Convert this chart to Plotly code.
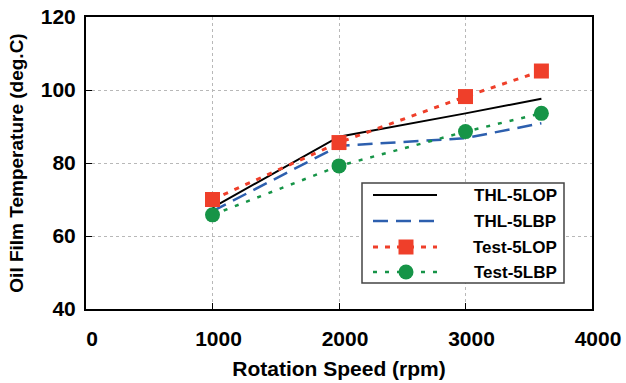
import plotly.graph_objects as go

speed = [1000, 2000, 3000, 3600]
thl_5lop = [67.8, 87.2, 93.6, 97.6]
thl_5lbp = [66.8, 84.7, 86.8, 90.9]
test_5lop = [70.0, 85.6, 98.2, 105.2]
test_5lbp = [65.8, 79.2, 88.6, 93.6]

x_ticks = [0, 1000, 2000, 3000, 4000]
y_ticks = [40, 60, 80, 100, 120]

names = ["THL-5LOP", "THL-5LBP", "Test-5LOP", "Test-5LBP"]

FONT = "Liberation Sans, Arial, sans-serif"
BLACK = "black"
BLUE = "#2d5fae"
RED = "#ef3f2a"
GREEN = "#169447"

styles = [
    dict(line=dict(color=BLACK, width=2), mode="lines", marker=None),
    dict(line=dict(color=BLUE, width=2.5, dash="15px,8px"), mode="lines", marker=None),
    dict(line=dict(color=RED, width=3, dash="5px,7px"), mode="lines+markers",
         marker=dict(symbol="square", size=15, color=RED)),
    dict(line=dict(color=GREEN, width=2.5, dash="4px,8px"), mode="lines+markers",
         marker=dict(symbol="circle", size=15, color=GREEN)),
]
series = [thl_5lop, thl_5lbp, test_5lop, test_5lbp]

fig = go.Figure()
for name, ys, st in zip(names, series, styles):
    kw = dict(x=speed, y=ys, name=name, mode=st["mode"], line=st["line"], showlegend=False)
    if st["marker"] is not None:
        kw["marker"] = st["marker"]
    fig.add_trace(go.Scatter(**kw))

axis_common = dict(showline=True, linecolor="black", linewidth=2, mirror=True,
                   ticks="inside", ticklen=6, tickcolor="black", tickwidth=1,
                   showgrid=True, gridcolor="#b8b8b8", gridwidth=1, griddash="dot",
                   zeroline=False, automargin=False,
                   tickfont=dict(family=FONT, size=21, color="black", weight="bold"))

# Plot-area geometry (pixels) used to place the legend in paper coordinates
L, R, T, B = 86, 592, 17, 309
def px(x):
    return (x - L) / (R - L)
def py(y):
    return (B - y) / (B - T)

shapes = []
annotations = []
# legend box
shapes.append(dict(type="rect", xref="paper", yref="paper",
                   x0=px(362), x1=px(564), y0=py(283), y1=py(183),
                   line=dict(color="#444444", width=1.5), fillcolor="white", layer="above"))
row_y = [195, 221, 247, 272]
for name, st, ry in zip(names, styles, row_y):
    ln = st["line"]
    shapes.append(dict(type="line", xref="paper", yref="paper",
                       x0=px(373), x1=px(437), y0=py(ry), y1=py(ry),
                       line=dict(color=ln["color"], width=ln["width"],
                                 dash=ln.get("dash", "solid")), layer="above"))
    if st["marker"] is not None:
        sym = st["marker"]["symbol"]
        shapes.append(dict(type="rect" if sym == "square" else "circle",
                           xref="paper", yref="paper",
                           xsizemode="pixel", ysizemode="pixel",
                           xanchor=px(406), yanchor=py(ry),
                           x0=-7.5, x1=7.5, y0=-7.5, y1=7.5,
                           line=dict(width=0), fillcolor=ln["color"], layer="above"))
    annotations.append(dict(xref="paper", yref="paper", x=px(515), y=py(ry),
                            text=name, showarrow=False, xanchor="center", yanchor="middle",
                            font=dict(family=FONT, size=17, color="black", weight="bold")))

fig.update_layout(
    width=626, height=383,
    margin=dict(l=L, r=626 - R, t=T, b=383 - B),
    paper_bgcolor="white", plot_bgcolor="white",
    xaxis=dict(range=[0, 4000], tickvals=x_ticks, ticktext=[str(v) for v in x_ticks],
               ticklabelstandoff=10, ticklabelshift=6,
               title=dict(text="Rotation Speed (rpm)", standoff=12,
                          font=dict(family=FONT, size=21, color="black", weight="bold")),
               **axis_common),
    yaxis=dict(range=[40, 120], tickvals=y_ticks, ticktext=[str(v) for v in y_ticks],
               ticklabelstandoff=4,
               title=dict(text="Oil Film Temperature (deg.C)", standoff=12,
                          font=dict(family=FONT, size=19, color="black", weight="bold")),
               **axis_common),
    shapes=shapes,
    annotations=annotations,
    showlegend=False,
)

fig.write_html("out.html")
